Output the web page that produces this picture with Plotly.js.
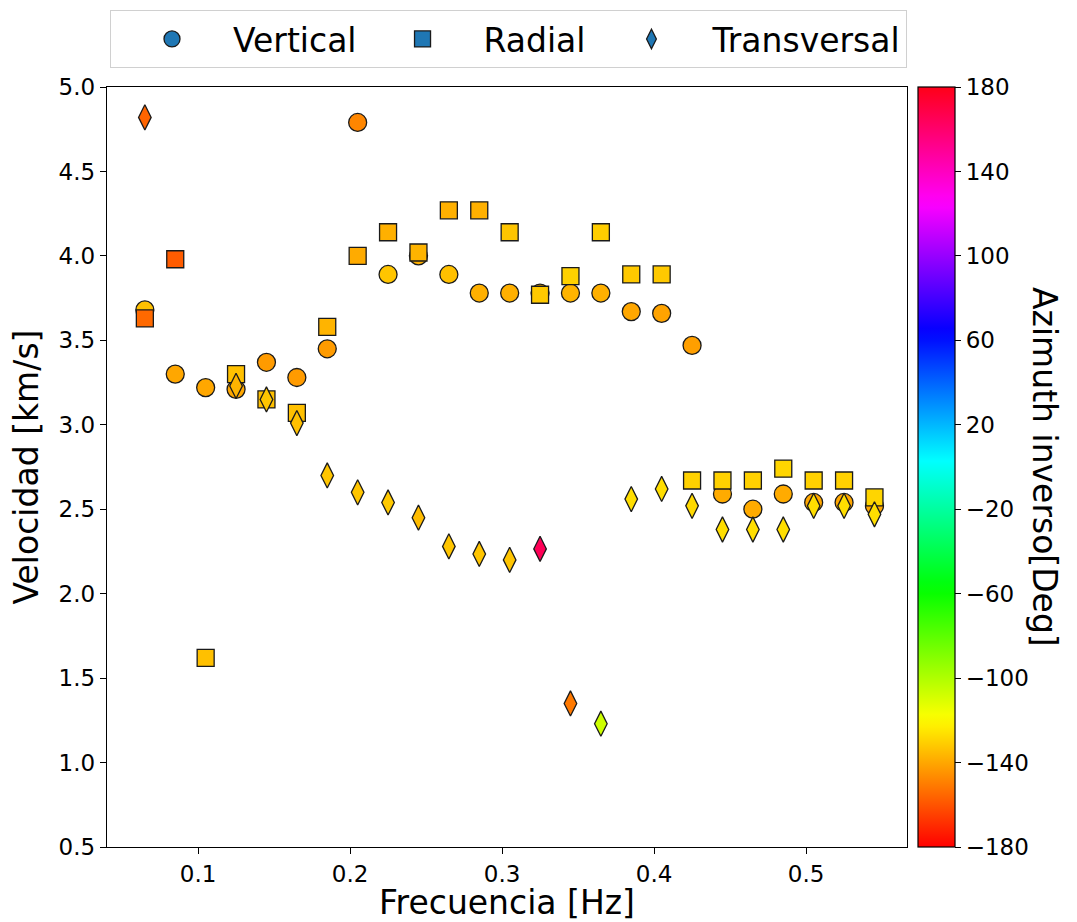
<!DOCTYPE html>
<html>
<head>
<meta charset="utf-8">
<script src="https://cdn.plot.ly/plotly-3.0.1.min.js"></script>
<style>html,body{margin:0;padding:0;background:#fff;}#chart{width:1077px;height:922px;}</style>
</head>
<body>
<div id="chart"></div>
<script>
// Frequencies [Hz]
const freq = [0.065,0.085,0.105,0.125,0.145,0.165,0.185,0.205,0.225,0.245,0.265,0.285,0.305,0.325,0.345,0.365,0.385,0.405,0.425,0.445,0.465,0.485,0.505,0.525,0.545];

// Velocities [km/s]
const velVertical = [3.68,3.30,3.22,3.21,3.37,3.28,3.45,4.79,3.89,4.00,3.89,3.78,3.78,3.78,3.78,3.78,3.67,3.66,3.47,2.59,2.50,2.59,2.54,2.54,2.52];
const velRadial   = [3.63,3.98,1.62,3.30,3.15,3.07,3.58,4.00,4.14,4.02,4.27,4.27,4.14,3.77,3.88,4.14,3.89,3.89,2.67,2.67,2.67,2.74,2.67,2.67,2.57];
const velTransv   = [4.82,null,null,3.23,3.15,3.01,2.70,2.60,2.54,2.45,2.28,2.235,2.20,2.265,1.35,1.23,2.56,2.62,2.52,2.38,2.38,2.38,2.52,2.52,2.47];

// Back-azimuth [deg]
const azVertical = [-134,-140,-140,-140,-143,-143,-143,-148,-133,-138,-134,-138,-138,-138,-137,-138,-140,-141,-142,-139,-139,-139,-140,-140,-140];
const azRadial   = [-155,-158,-134,-134,-134,-134,-137,-139,-138,-137,-138,-138,-133,-132,-130,-131,-132,-132,-130,-130,-130,-129,-130,-130,-129];
const azTransv   = [-156,null,null,-137,-133,-134,-133,-133,-132,-135,-133,-133,-133,165,-151,-107,-127,-127,-128,-127,-127,-127,-127,-127,-127];

const seriesNames = ['Vertical','Radial','Transversal'];
const cbTicks = [-180,-140,-100,-60,-20,20,60,100,140,180];

// matplotlib "hsv" colormap
const hsvScale = [
  [0.0,'rgb(255,0,0)'],
  [0.158730,'rgb(255,239,0)'],
  [0.174603,'rgb(247,255,0)'],
  [0.333333,'rgb(8,255,0)'],
  [0.349206,'rgb(0,255,16)'],
  [0.507937,'rgb(0,255,255)'],
  [0.666667,'rgb(0,16,255)'],
  [0.682540,'rgb(8,0,255)'],
  [0.841270,'rgb(247,0,255)'],
  [0.857143,'rgb(255,0,239)'],
  [1.0,'rgb(255,0,24)']
];

const FONT = 'DejaVu Sans';
const edge = {color:'#1a1a1a', width:1.3};

function dataTrace(y, az, symbol, size){
  return {
    type:'scatter', mode:'markers', x:freq, y:y, showlegend:false,
    marker:{symbol:symbol, size:size, color:az, coloraxis:'coloraxis', line:edge},
    hoverinfo:'x+y'
  };
}
function legendTrace(name, symbol, size){
  return {
    type:'scatter', mode:'markers', x:[null], y:[null], name:name, showlegend:true,
    marker:{symbol:symbol, size:size, color:'#1f77b4', line:edge}
  };
}

const traces = [
  dataTrace(velVertical, azVertical, 'circle', 18),
  dataTrace(velRadial, azRadial, 'square', 17),
  dataTrace(velTransv, azTransv, 'diamond-tall', 18),
  legendTrace(seriesNames[0], 'circle', 16),
  legendTrace(seriesNames[1], 'square', 16),
  legendTrace(seriesNames[2], 'diamond-tall', 14)
];

const layout = {
  width:1077, height:922,
  margin:{l:107, r:170, t:87, b:75},
  paper_bgcolor:'#fff', plot_bgcolor:'#fff',
  font:{family:FONT, color:'#000'},
  xaxis:{
    range:[0.0401,0.5664], tickvals:[0.1,0.2,0.3,0.4,0.5], ticktext:['0.1','0.2','0.3','0.4','0.5'],
    showgrid:false, zeroline:false, showline:true, mirror:true, linecolor:'#000', linewidth:1.2,
    ticks:'outside', ticklen:6, tickcolor:'#000', tickfont:{size:23, family:FONT},
    title:{text:'Frecuencia [Hz]', font:{size:33, family:FONT}}
  },
  yaxis:{
    range:[0.5,5.0], tickvals:[0.5,1.0,1.5,2.0,2.5,3.0,3.5,4.0,4.5,5.0],
    ticktext:['0.5','1.0','1.5','2.0','2.5','3.0','3.5','4.0','4.5','5.0'],
    showgrid:false, zeroline:false, showline:true, mirror:true, linecolor:'#000', linewidth:1.2,
    ticks:'outside', ticklen:6, tickcolor:'#000', tickfont:{size:23, family:FONT},
    title:{text:'Velocidad [km/s]', font:{size:33, family:FONT}, standoff:10}
  },
  coloraxis:{
    colorscale:hsvScale, cmin:-180, cmax:180,
    colorbar:{
      x:1.01375, xanchor:'left', xref:'paper', y:0.5, yanchor:'middle',
      len:1, lenmode:'fraction', thickness:37, thicknessmode:'pixels',
      xpad:0, ypad:0, outlinewidth:1.2, outlinecolor:'#000',
      ticks:'outside', ticklen:6, tickcolor:'#000',
      tickvals:cbTicks, tickfont:{size:23, family:FONT},
      title:{text:''}
    }
  },
  legend:{
    orientation:'h', xref:'container', yref:'container', x:110/1077, xanchor:'left', y:1 - 10/922, yanchor:'top',
    bgcolor:'#fff', bordercolor:'#d0d0d0', borderwidth:1,
    font:{size:33, family:FONT}, itemwidth:112, traceorder:'normal'
  },
  annotations:[{
    text:'Azimuth inverso[Deg]', xref:'paper', yref:'paper', x:1.1725, y:0.5,
    xanchor:'center', yanchor:'middle', textangle:90, showarrow:false,
    font:{size:33, family:FONT}
  }]
};

Plotly.newPlot('chart', traces, layout, {displayModeBar:false, staticPlot:true});
</script>
</body>
</html>
